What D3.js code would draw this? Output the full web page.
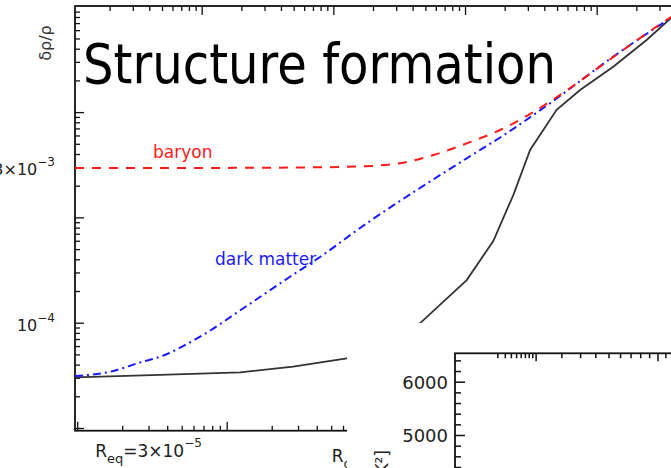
<!DOCTYPE html>
<html>
<head>
<meta charset="utf-8">
<script src="https://cdn.jsdelivr.net/npm/d3@7"></script>
<style>
  body { margin: 0; background: #fff; }
  svg { display: block; font-family: "DejaVu Sans", sans-serif; }
</style>
</head>
<body>
<div id="chart"></div>
<script>
// scale factor R (bottom axis) and density contrast (left axis)
const blackR  = [9.67e-6, 3.58e-5, 1.23e-4, 2.78e-4, 6.35e-4, 1.15e-3, 1.96e-3, 4.03e-3, 6.07e-3, 8.26e-3, 1.07e-2, 1.61e-2, 2.31e-2, 3.85e-2, 6.44e-2, 9.38e-2, 0.147];
const blackD  = [3.03e-5, 3.19e-5, 3.38e-5, 3.82e-5, 4.59e-5, 6.56e-5, 9.87e-5, 2.54e-4, 5.97e-4, 1.63e-3, 4.37e-3, 1.05e-2, 1.62e-2, 2.70e-2, 4.84e-2, 7.84e-2, 0.116];

const darkR   = [9.67e-6, 1.66e-5, 2.63e-5, 3.58e-5, 6.63e-5, 1.33e-4, 2.65e-4, 4.21e-4, 8.64e-4, 1.87e-3, 4.03e-3, 7.46e-3, 1.45e-2, 3.85e-2, 9.38e-2, 0.147];
const darkD   = [3.12e-5, 3.42e-5, 4.19e-5, 4.75e-5, 7.36e-5, 1.41e-4, 2.73e-4, 4.21e-4, 8.79e-4, 1.82e-3, 3.64e-3, 6.30e-3, 1.21e-2, 3.36e-2, 7.84e-2, 0.116];

const baryonR = [9.67e-6, 6.63e-5, 3.09e-4, 7.41e-4, 1.44e-3, 2.41e-3, 4.03e-3, 6.73e-3, 1.125e-2, 1.69e-2, 3.85e-2, 9.38e-2, 0.147];
const baryonD = [2.95e-3, 2.95e-3, 2.98e-3, 3.04e-3, 3.27e-3, 3.91e-3, 5.05e-3, 6.76e-3, 1.0e-2, 1.45e-2, 3.33e-2, 8.0e-2, 0.118];

// tick labels
const yLabelVals  = [3e-3, 1e-4];
const yLabelMant  = ["3×10", "10"];
const yLabelExp   = ["−3", "−4"];
const insetYLabels = [5000, 6000];
const Req = 3e-5, Rdec = 1e-3;

const width = 671, height = 468;
const pLeft = 75, pTop = 6, pBottom = 430.7, pRight = 720;

const svg = d3.select("#chart").append("svg")
  .attr("width", width).attr("height", height);

const x    = d3.scaleLog().domain([1e-5, 1e-2]).range([77.2, 525.7]);
const xTop = d3.scaleLog().domain([0.1, 1000]).range([70, 596.7]);
const y    = d3.scaleLog().domain([1e-5, 1e-1]).range([428, 6.8]);

function logTicks(lo, hi) {
  const out = [];
  for (let e = Math.floor(Math.log10(lo)); e <= Math.ceil(Math.log10(hi)); e++)
    for (let k = 1; k < 10; k++) {
      const v = k * Math.pow(10, e);
      if (v >= lo && v <= hi) out.push(v);
    }
  return out;
}
const isDecade = v => Math.abs(Math.log10(v) - Math.round(Math.log10(v))) < 1e-6;

svg.append("clipPath").attr("id", "plot")
  .append("rect").attr("x", pLeft).attr("y", pTop)
  .attr("width", pRight - pLeft).attr("height", pBottom - pTop);

// ticks (all inward)
function tickSet(axis, scale, vals, tr) {
  const major = vals.filter(isDecade), minor = vals.filter(v => !isDecade(v));
  [[minor, 5], [major, 9]].forEach(([tv, len]) => {
    svg.append("g").attr("transform", tr)
      .call(axis(scale).tickValues(tv).tickSize(len).tickFormat(""))
      .call(g => g.select(".domain").remove())
      .selectAll("line").attr("stroke", "#111").attr("stroke-width", 1.3);
  });
}
tickSet(d3.axisRight, y, logTicks(1e-5, 1e-1).filter(v => y(v) > pTop + 1 && y(v) < pBottom - 1), `translate(${pLeft},0)`);
tickSet(d3.axisTop, x, logTicks(1e-5, 1e-1).filter(v => x(v) > pLeft + 1 && x(v) < pRight), `translate(0,${pBottom})`);
tickSet(d3.axisBottom, xTop, logTicks(0.1, 1e5).filter(v => xTop(v) > pLeft + 1 && xTop(v) < pRight), `translate(0,${pTop})`);

// frame
svg.append("rect").attr("x", pLeft).attr("y", pTop)
  .attr("width", pRight - pLeft).attr("height", pBottom - pTop)
  .attr("fill", "none").attr("stroke", "#111").attr("stroke-width", 1.8);

// curves
const line = d3.line().x(d => x(d[0])).y(d => y(d[1]));
const plot = svg.append("g").attr("clip-path", "url(#plot)");
plot.append("path").datum(d3.zip(blackR, blackD))
  .attr("d", line).attr("fill", "none").attr("stroke", "#333").attr("stroke-width", 1.8);
plot.append("path").datum(d3.zip(darkR, darkD))
  .attr("d", line.curve(d3.curveMonotoneX)).attr("fill", "none").attr("stroke", "#1a1aff")
  .attr("stroke-width", 2).attr("stroke-dasharray", "8,4,2,4");
plot.append("path").datum(d3.zip(baryonR, baryonD))
  .attr("d", line.curve(d3.curveMonotoneX)).attr("fill", "none").attr("stroke", "#ff1a1a")
  .attr("stroke-width", 2).attr("stroke-dasharray", "9,8");

// curve labels
svg.append("text").attr("x", 153).attr("y", 158).attr("font-size", 17)
  .attr("fill", "#ff1a1a").text("baryon");
svg.append("text").attr("x", 215).attr("y", 265).attr("font-size", 17)
  .attr("fill", "#1a1aff").text("dark matter");

// left tick labels
yLabelVals.forEach((v, i) => {
  const t = svg.append("text").attr("x", 55).attr("y", y(v) + 8)
    .attr("text-anchor", "end").attr("font-size", 16).attr("fill", "#222");
  t.append("tspan").text(yLabelMant[i]);
  t.append("tspan").attr("font-size", 12).attr("dy", -9).text(yLabelExp[i]);
});

// y title
svg.append("text").attr("transform", "translate(51,43) rotate(-90)")
  .attr("text-anchor", "middle").attr("font-size", 16).attr("fill", "#333").text("δρ/ρ");

// bottom labels
function rLabel(v, sub, rest, exp, base) {
  const t = svg.append("text").attr("x", x(v)).attr("y", base)
    .attr("text-anchor", "middle").attr("font-size", 17).attr("fill", "#222");
  t.append("tspan").text("R");
  t.append("tspan").attr("font-size", 13).attr("dy", 6).text(sub);
  t.append("tspan").attr("dy", -6).text(rest);
  t.append("tspan").attr("font-size", 12).attr("dy", -10).text(exp);
}
rLabel(Req, "eq", "=3×10", "−5", 457);
rLabel(Rdec, "dec", "=10", "−3", 462);

// title
svg.append("text").attr("x", 83).attr("y", 83).attr("font-size", 55)
  .attr("textLength", 473).attr("lengthAdjust", "spacingAndGlyphs")
  .attr("fill", "#000").text("Structure formation");

// inset: CMB spectrum
const insetL = 455, insetT = 353.3;
const insetX = d3.scalePow().exponent(0.4).domain([0, 100]).range([insetL, 657.5]);
const insetY = d3.scaleLinear().domain([5000, 6000]).range([435, 381.7]);

svg.append("rect").attr("x", 347).attr("y", 323)
  .attr("width", width - 347).attr("height", height - 323).attr("fill", "#fff");

const iyMinor = d3.range(4400, 6600, 200).filter(v => v % 1000 !== 0);
[[iyMinor, 6], [insetYLabels, 10]].forEach(([tv, len]) => {
  svg.append("g").attr("transform", `translate(${insetL},0)`)
    .call(d3.axisRight(insetY).tickValues(tv).tickSize(len).tickFormat(""))
    .call(g => g.select(".domain").remove())
    .selectAll("line").attr("stroke", "#111").attr("stroke-width", 1.5);
});
const ixMinor = d3.range(2, 10).concat(d3.range(20, 200, 10).filter(v => v !== 100));
[[ixMinor, 5], [[10, 100], 8]].forEach(([tv, len]) => {
  svg.append("g").attr("transform", `translate(0,${insetT})`)
    .call(d3.axisBottom(insetX).tickValues(tv).tickSize(len).tickFormat(""))
    .call(g => g.select(".domain").remove())
    .selectAll("line").attr("stroke", "#111").attr("stroke-width", 1.5);
});
svg.append("rect").attr("x", insetL).attr("y", insetT)
  .attr("width", 400).attr("height", 300)
  .attr("fill", "none").attr("stroke", "#111").attr("stroke-width", 1.8);

insetYLabels.forEach(v => {
  svg.append("text").attr("x", 448).attr("y", insetY(v) + 7)
    .attr("text-anchor", "end").attr("font-size", 18).attr("fill", "#222").text(v);
});
const iyt = svg.append("text").attr("transform", "translate(388,450) rotate(-90)")
  .attr("text-anchor", "end").attr("font-size", 17).attr("fill", "#222");
iyt.append("tspan").text("l(l+1)C");
iyt.append("tspan").attr("font-size", 12).attr("dy", 4).text("l");
iyt.append("tspan").attr("dy", -4).text("/2π [μK²]");
</script>
</body>
</html>
